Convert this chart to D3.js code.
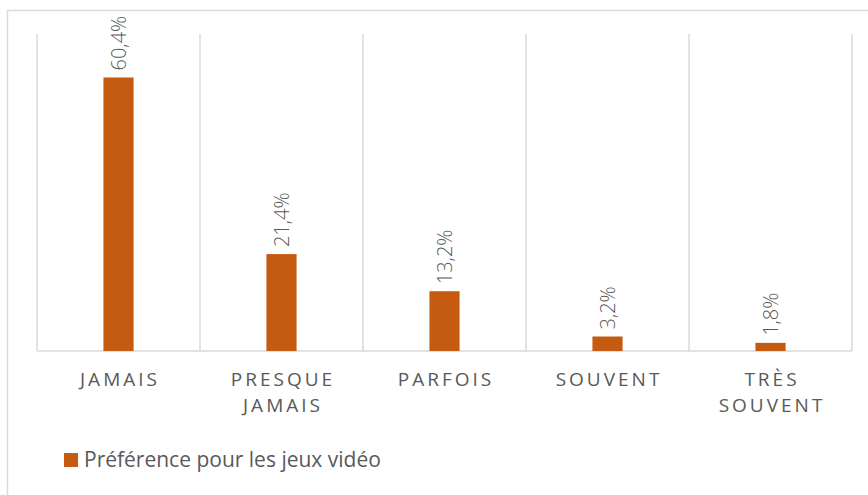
<!DOCTYPE html>
<html>
<head>
<meta charset="utf-8">
<script src="https://cdn.jsdelivr.net/npm/d3@7"></script>
<style>
  body { margin: 0; background: #fff; }
  svg { display: block; font-family: "Open Sans", sans-serif; }
</style>
</head>
<body>
<div id="wrapper"></div>
<script>
// data
const categories = ["JAMAIS", "PRESQUE JAMAIS", "PARFOIS", "SOUVENT", "TRÈS SOUVENT"];
const categoryLines = [["JAMAIS"], ["PRESQUE", "JAMAIS"], ["PARFOIS"], ["SOUVENT"], ["TRÈS", "SOUVENT"]];
const values = [60.4, 21.4, 13.2, 3.2, 1.8];
const valueLabels = ["60,4%", "21,4%", "13,2%", "3,2%", "1,8%"];
const seriesName = "Préférence pour les jeux vidéo";

function drawChart() {
  const dimensions = {
    width: 868,
    height: 495,
    margin: { top: 34, bottom: 144, left: 37, right: 16 },
  };
  dimensions.boundedWidth = dimensions.width - dimensions.margin.left - dimensions.margin.right;
  dimensions.boundedHeight = dimensions.height - dimensions.margin.top - dimensions.margin.bottom;

  const barColor = "#c55a11";
  const gridColor = "#d9d9d9";
  const textColor = "#595959";

  const wrapper = d3.select("#wrapper")
    .append("svg")
    .attr("width", dimensions.width)
    .attr("height", dimensions.height);

  // chart border
  wrapper.append("rect")
    .attr("x", 7.5)
    .attr("y", 10.5)
    .attr("width", dimensions.width)
    .attr("height", dimensions.height)
    .attr("fill", "none")
    .attr("stroke", gridColor)
    .attr("stroke-width", 1.5);

  const bounds = wrapper.append("g")
    .attr("transform", `translate(${dimensions.margin.left},${dimensions.margin.top})`);

  const xScale = d3.scaleBand()
    .domain(categories)
    .range([0, dimensions.boundedWidth]);

  const yScale = d3.scaleLinear()
    .domain([0, 70])
    .range([dimensions.boundedHeight, 0]);

  // vertical gridlines between categories
  const edges = categories.map(c => xScale(c)).concat([dimensions.boundedWidth]);
  bounds.selectAll(".grid")
    .data(edges)
    .join("line")
    .attr("class", "grid")
    .attr("x1", d => d)
    .attr("x2", d => d)
    .attr("y1", 0)
    .attr("y2", dimensions.boundedHeight)
    .attr("stroke", gridColor)
    .attr("stroke-width", 1.5);

  // baseline
  bounds.append("line")
    .attr("x1", 0)
    .attr("x2", dimensions.boundedWidth)
    .attr("y1", yScale(0))
    .attr("y2", yScale(0))
    .attr("stroke", gridColor)
    .attr("stroke-width", 1.5);

  const barWidth = xScale.bandwidth() * 0.185;

  bounds.selectAll(".bar")
    .data(values)
    .join("rect")
    .attr("class", "bar")
    .attr("x", (d, i) => xScale(categories[i]) + xScale.bandwidth() / 2 - barWidth / 2)
    .attr("y", d => yScale(d))
    .attr("width", barWidth)
    .attr("height", d => yScale(0) - yScale(d))
    .attr("fill", barColor);

  // data labels, rotated
  bounds.selectAll(".value-label")
    .data(values)
    .join("text")
    .attr("class", "value-label")
    .attr("transform", (d, i) =>
      `translate(${xScale(categories[i]) + xScale.bandwidth() / 2 + 7},${yScale(d) - 7}) rotate(-90)`)
    .attr("text-anchor", "start")
    .attr("fill", textColor)
    .style("font-size", "20px")
    .style("font-weight", 300)
    .text((d, i) => valueLabels[i]);

  // category labels
  const catGroups = bounds.selectAll(".cat-label")
    .data(categoryLines)
    .join("text")
    .attr("class", "cat-label")
    .attr("fill", textColor)
    .attr("text-anchor", "middle")
    .style("font-size", "19px")
    .style("letter-spacing", "3px");

  catGroups.selectAll("tspan")
    .data((d, i) => d.map(line => ({ line, i })))
    .join("tspan")
    .attr("x", d => xScale(categories[d.i]) + xScale.bandwidth() / 2 + 1.5)
    .attr("y", (d, j) => dimensions.boundedHeight + 35 + j * 26)
    .text(d => d.line);

  // legend
  const legend = wrapper.append("g")
    .attr("transform", "translate(64,453)");
  legend.append("rect")
    .attr("width", 14)
    .attr("height", 14)
    .attr("fill", barColor);
  legend.append("text")
    .attr("x", 20)
    .attr("y", 14)
    .attr("fill", textColor)
    .style("font-size", "21px")
    .text(seriesName);
}

drawChart();
</script>
</body>
</html>
